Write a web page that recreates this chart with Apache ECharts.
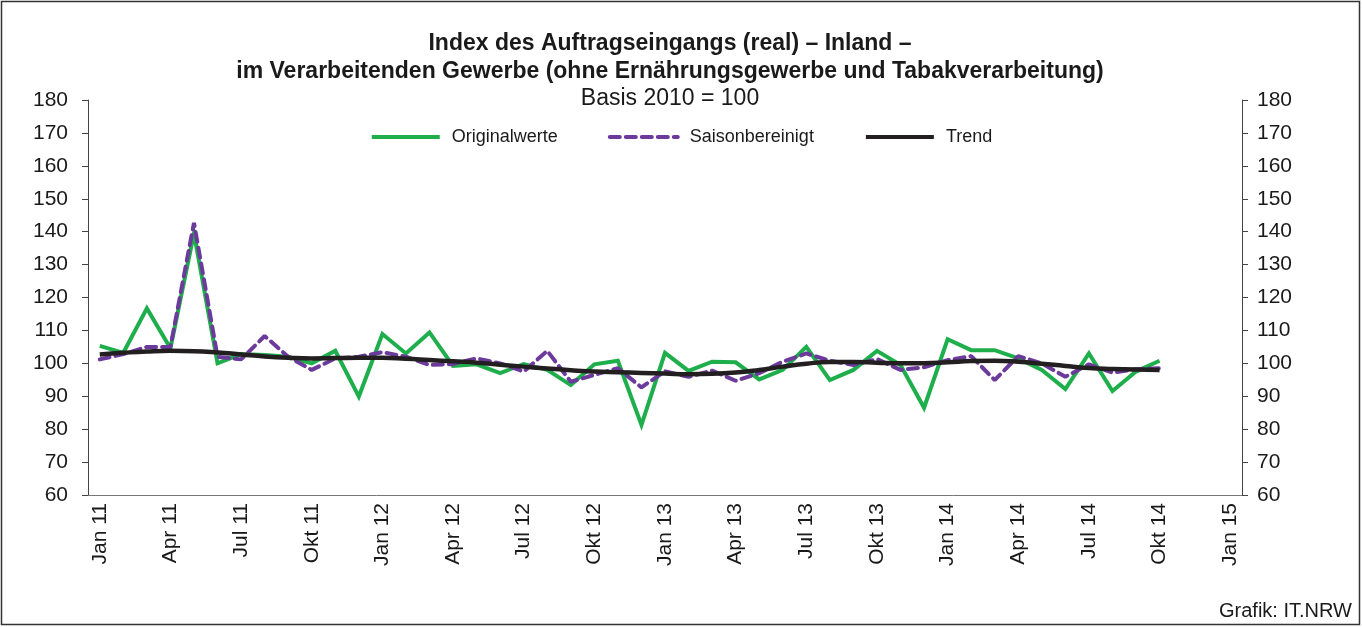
<!DOCTYPE html>
<html><head><meta charset="utf-8">
<script src="https://cdn.jsdelivr.net/npm/echarts@6/dist/echarts.min.js"></script>
<style>html,body{margin:0;padding:0;background:#fff}#c{width:1362px;height:627px}</style>
</head><body><div id="c"></div>
<script>
const monthNames = ['Jan','Feb','Mär','Apr','Mai','Jun','Jul','Aug','Sep','Okt','Nov','Dez'];
const years = ['11','12','13','14','15'];
const categories = [];
years.forEach(y => monthNames.forEach(m => { if (categories.length < 49) categories.push(m + ' ' + y); }));

const originalwerte = [105.3, 103.2, 116.7, 104.6, 139.5, 100.0, 102.8, 102.5, 102.0, 100.0,
  103.8, 89.9, 108.9, 103.0, 109.4, 99.2, 99.7, 97.0, 99.8, 98.0,
  93.4, 99.7, 100.8, 81.3, 103.2, 97.7, 100.5, 100.3, 95.1, 98.0,
  105.0, 94.9, 98.0, 103.8, 99.5, 86.5, 107.3, 104.0, 104.0, 101.5,
  98.0, 92.2, 103.0, 91.6, 97.5, 100.8];
const saisonbereinigt = [101.2, 102.8, 105.0, 105.0, 142.7, 102.0, 101.2, 108.3, 102.0, 98.0,
  101.5, 102.0, 103.4, 102.0, 99.5, 99.8, 101.5, 100.0, 97.5, 103.8,
  94.4, 96.5, 98.5, 92.7, 97.6, 95.9, 97.8, 94.7, 97.0, 100.5,
  103.0, 100.8, 99.5, 101.3, 98.0, 98.8, 101.0, 102.2, 94.9, 102.2,
  100.0, 95.9, 99.7, 97.2, 98.2, 98.5];
const trend = [102.7, 103.2, 103.6, 103.8, 103.7, 103.3, 102.7, 102.1, 101.7, 101.5,
  101.6, 101.7, 101.7, 101.4, 101.0, 100.6, 100.2, 99.6, 99.0, 98.4,
  97.9, 97.5, 97.3, 97.1, 96.9, 96.7, 96.8, 97.2, 98.0, 99.0,
  99.9, 100.4, 100.4, 100.2, 100.0, 100.0, 100.3, 100.7, 100.8, 100.5,
  99.9, 99.2, 98.6, 98.3, 98.1, 98.0];

const FONT = 'Liberation Sans, Arial, sans-serif';
const chart = echarts.init(document.getElementById('c'));
const yAxisBase = {
  type: 'value', min: 60, max: 180, interval: 10,
  axisLine: { show: true, lineStyle: { color: '#444', width: 1 } },
  axisTick: { show: true, length: 6, lineStyle: { color: '#444' } },
  splitLine: { show: false },
  axisLabel: { color: '#1a1a1a', fontSize: 21, fontFamily: FONT, margin: 20 }
};
chart.setOption({
  animation: false,
  backgroundColor: '#fff',
  graphic: [{
    type: 'rect', shape: { x: 1.5, y: 1.5, width: 1358, height: 623 },
    style: { fill: 'none', stroke: '#333', lineWidth: 1.5 }, silent: true
  }, {
    type: 'text', right: 10, bottom: 6,
    style: { text: 'Grafik: IT.NRW', fill: '#1a1a1a', font: '20px ' + FONT }
  }],
  title: {
    text: 'Index des Auftragseingangs (real) – Inland –\nim Verarbeitenden Gewerbe (ohne Ernährungsgewerbe und Tabakverarbeitung)',
    subtext: 'Basis 2010 = 100',
    left: 665, textAlign: 'center', top: 25, itemGap: 0,
    textStyle: { fontSize: 23, fontWeight: 'bold', fontFamily: FONT, color: '#1a1a1a', lineHeight: 28 },
    subtextStyle: { fontSize: 23, fontFamily: FONT, color: '#1a1a1a', lineHeight: 26 }
  },
  legend: {
    top: 123, left: 'center', itemWidth: 68, itemHeight: 12, itemGap: 50,
    itemStyle: { opacity: 0 },
    lineStyle: { width: 4 },
    textStyle: { fontSize: 18, fontFamily: FONT, color: '#1a1a1a', padding: [0, 0, 0, 7] },
    data: ['Originalwerte', 'Saisonbereinigt', 'Trend']
  },
  grid: { left: 88, right: 120, top: 100, bottom: 132 },
  xAxis: {
    type: 'category', data: categories, boundaryGap: true,
    axisLine: { lineStyle: { color: '#777', width: 1 } },
    axisTick: { show: false },
    axisLabel: { interval: 2, rotate: 90, fontSize: 21, fontFamily: FONT, color: '#1a1a1a', margin: 8 }
  },
  yAxis: [Object.assign({}, yAxisBase, { position: 'left' }),
          Object.assign({}, yAxisBase, { position: 'right', axisLabel: Object.assign({}, yAxisBase.axisLabel, { margin: 15 }) })],
  series: [{
    name: 'Originalwerte', type: 'line', data: originalwerte, symbol: 'none',
    lineStyle: { color: '#1eaf4c', width: 4, join: 'miter' }, itemStyle: { color: '#1eaf4c' }, z: 2
  }, {
    name: 'Saisonbereinigt', type: 'line', data: saisonbereinigt, symbol: 'none',
    lineStyle: { color: '#6b3a9b', width: 4, type: [10, 6], cap: 'round' }, itemStyle: { color: '#6b3a9b' }, z: 3
  }, {
    name: 'Trend', type: 'line', data: trend, symbol: 'none', smooth: true,
    lineStyle: { color: '#231f20', width: 4.5 }, itemStyle: { color: '#231f20' }, z: 4
  }]
});
</script></body></html>
